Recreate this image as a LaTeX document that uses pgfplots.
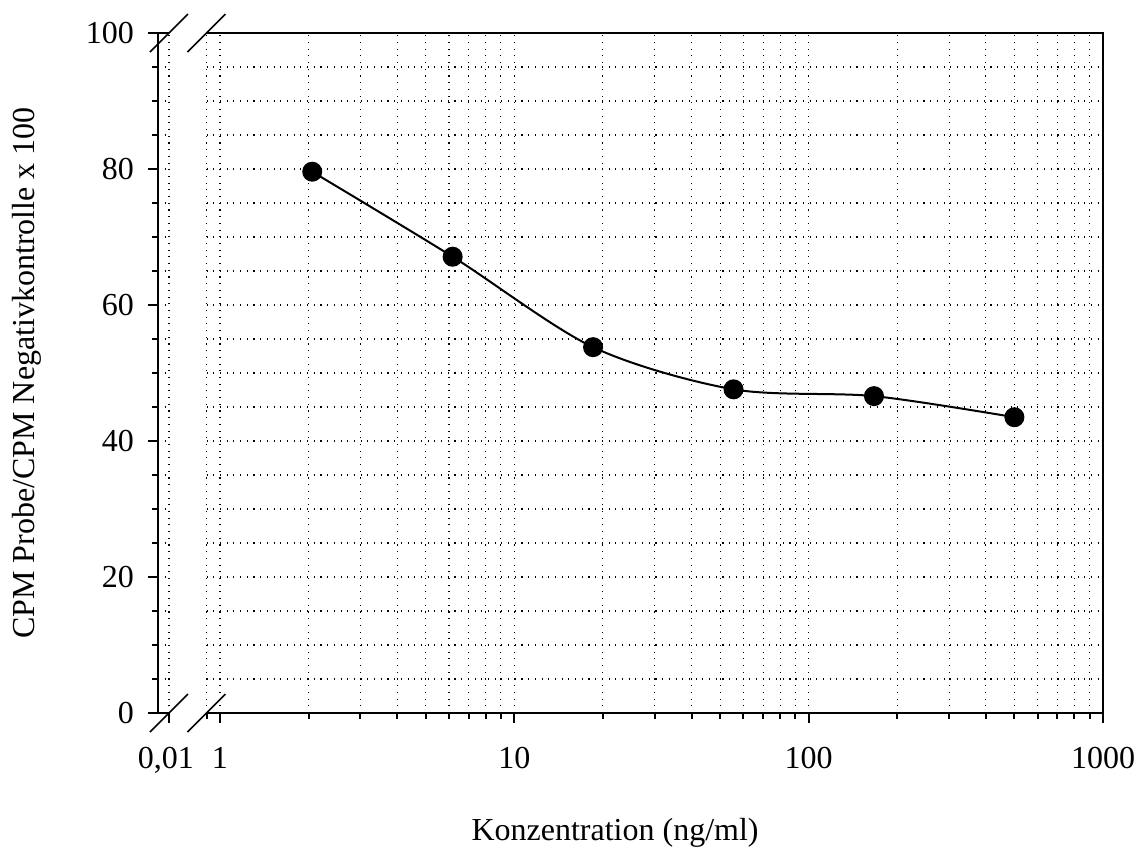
\documentclass[border=0pt]{standalone}
\usepackage{fontspec}
\setmainfont{Liberation Serif}
\usepackage{pgfplots}
\pgfplotsset{compat=1.18}

\newcommand\schrift{\fontsize{16}{19}\selectfont}

\tikzset{
  gitter/.style={black, line width=0.55pt, dash pattern=on 0.55pt off 2.8pt},
  bruch/.style={line width=0.8pt},
}

\begin{document}
\begin{tikzpicture}
\path[use as bounding box] (-103.25pt,-67.5pt) rectangle (465.75pt,356.5pt);

% linker Teil mit 0,01
\begin{axis}[xmode=log, scale only axis, height=340pt,
  at={(-24.25pt,0pt)}, width=5.5pt,
  ymin=0, ymax=100,
  axis line style={draw=none},
  tick align=outside, major tick length=5pt, minor tick length=3pt,
  tick style={black, line width=1pt},
  xtick pos=bottom, ytick pos=left,
  major grid style={gitter}, minor grid style={gitter},
  tick label style={font=\schrift},
  xticklabel style={yshift=-8.5pt, xshift=-1.5pt},
  yticklabel style={xshift=-3.5pt},
  label style={font=\schrift},
  clip=false,
  xmin=0.009174, xmax=0.01,
  xtick={0.01}, xticklabels={0{,}01},
  ytick={0,20,...,100}, yticklabels={0,20,40,60,80,100},
  minor ytick={5,10,15,25,30,35,45,50,55,65,70,75,85,90,95},
  grid=both,
  ylabel={CPM Probe/CPM Negativkontrolle x 100},
  ylabel style={at={([xshift=-65.5pt]rel axis cs:0,0.5)}, anchor=center},
]
\draw[line width=1pt] (rel axis cs:1,0) -- (rel axis cs:0,0) -- (rel axis cs:0,1) -- (rel axis cs:1,1);
\draw[bruch] ([shift={(-9.5pt,-9.5pt)}]rel axis cs:1,0) -- ([shift={(9.5pt,9.5pt)}]rel axis cs:1,0);
\draw[bruch] ([shift={(-9.5pt,-9.5pt)}]rel axis cs:1,1) -- ([shift={(9.5pt,9.5pt)}]rel axis cs:1,1);
\end{axis}

% rechter Teil 0,9 bis 1000
\begin{axis}[xmode=log, scale only axis, height=340pt,
  at={(0pt,0pt)}, width=448.25pt,
  ymin=0, ymax=100,
  axis line style={draw=none},
  tick align=outside, major tick length=5pt, minor tick length=3pt,
  tick style={black, line width=1pt},
  xtick pos=bottom, ytick pos=left,
  major grid style={gitter}, minor grid style={gitter},
  tick label style={font=\schrift},
  xticklabel style={yshift=-8.5pt},
  label style={font=\schrift},
  clip=false,
  xmin=0.9, xmax=1000,
  xtick={1,10,100,1000}, xticklabels={1,10,100,1000},
  minor xtick={0.9,2,3,...,9,20,30,...,90,200,300,...,900},
  xmajorgrids, xminorgrids,
  ytick=\empty,
  extra y ticks={5,10,...,95}, extra y tick labels={},
  extra y tick style={grid=major, major tick length=0pt, tick style={draw=none}},
  xlabel={Konzentration (ng/ml)},
  xlabel style={at={([yshift=-60pt]rel axis cs:0.4557,0)}, anchor=center},
]
\addplot[black, line width=1pt, smooth, tension=0.5, mark=*, mark size=4.5pt,
  mark options={solid, fill=black}] table {
conc  ratio
2.058 79.6
6.173 67.1
18.52 53.8
55.56 47.6
166.7 46.6
500   43.5
};
\draw[line width=1pt] (rel axis cs:0,0) -- (rel axis cs:1,0) -- (rel axis cs:1,1) -- (rel axis cs:0,1);
\draw[bruch] ([shift={(-9.5pt,-9.5pt)}]rel axis cs:0,0) -- ([shift={(9.5pt,9.5pt)}]rel axis cs:0,0);
\draw[bruch] ([shift={(-9.5pt,-9.5pt)}]rel axis cs:0,1) -- ([shift={(9.5pt,9.5pt)}]rel axis cs:0,1);
\end{axis}
\end{tikzpicture}
\end{document}
